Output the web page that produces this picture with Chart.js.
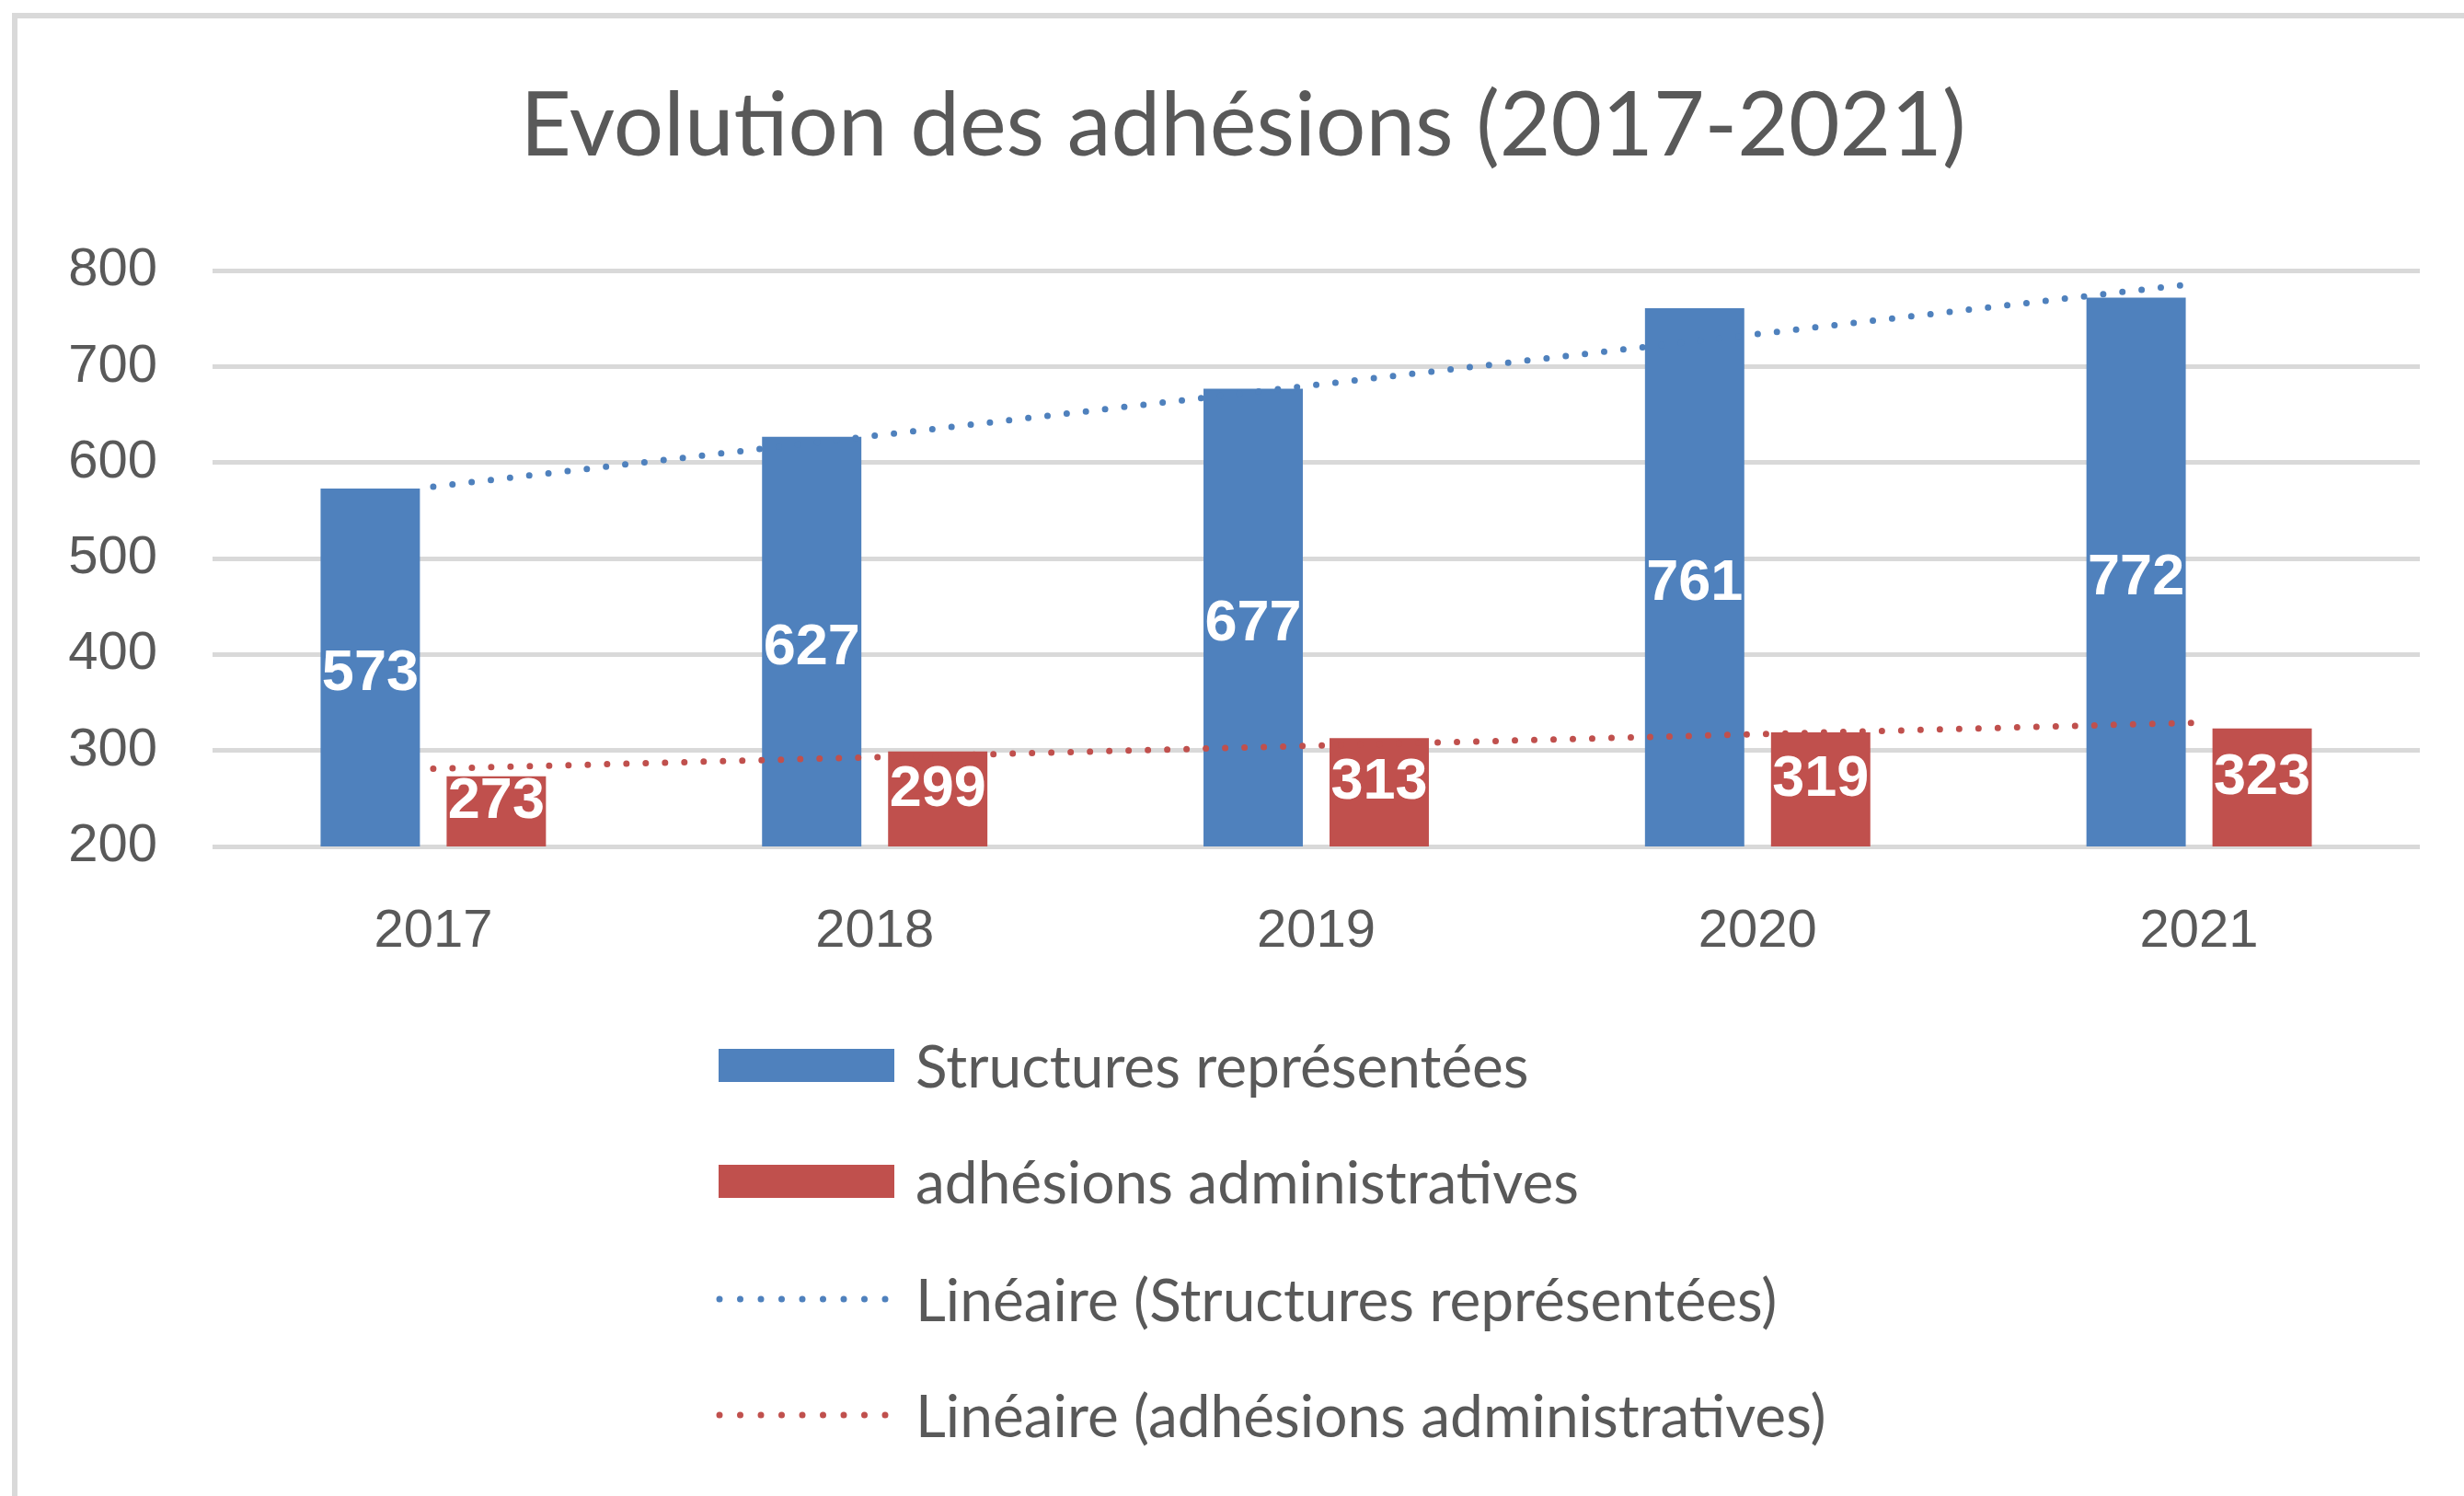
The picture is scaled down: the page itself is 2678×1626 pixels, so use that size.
<!DOCTYPE html>
<html>
<head>
<meta charset="utf-8">
<script src="https://cdn.jsdelivr.net/npm/chart.js@4.4.0/dist/chart.umd.min.js"></script>
<style>
  html, body { margin: 0; padding: 0; background: #fff; }
  #wrap { position: relative; width: 2678px; height: 1626px; overflow: hidden; }
  #frame { position: absolute; left: 13px; top: 14px; width: 2700px; height: 1700px;
           border-left: 6px solid #d9d9d9; border-top: 6px solid #d9d9d9; }
  canvas { position: absolute; left: 0; top: 0; }
</style>
</head>
<body>
<div id="wrap">
  <div id="frame"></div>
  <canvas id="chart" width="2678" height="1626"></canvas>
</div>
<script>
// donnees
var years = ['2017', '2018', '2019', '2020', '2021'];
var structures = [573, 627, 677, 761, 772];
var adhesions = [273, 299, 313, 319, 323];
// courbes de tendance : seulement les extremites
var trendStructures = [575, null, null, null, 787];
var trendAdhesions = [281, null, null, null, 329];
var yTicks = [200, 300, 400, 500, 600, 700, 800];

var blue = '#4F81BD';
var red = '#C0504D';
var grey = '#595959';
var tickFont = { family: 'Liberation Sans', size: 58 };

// etiquettes blanches au centre des barres (partie visible)
var barLabels = {
    id: 'barLabels',
    afterDatasetsDraw: function (chart) {
        var ctx = chart.ctx;
        var bottom = chart.chartArea.bottom;
        ctx.save();
        ctx.fillStyle = '#fff';
        ctx.font = 'bold 63px "Liberation Sans"';
        ctx.textAlign = 'center';
        ctx.textBaseline = 'middle';
        chart.data.datasets.forEach(function (ds, i) {
            if (ds.type !== 'bar') return;
            chart.getDatasetMeta(i).data.forEach(function (bar, j) {
                var y = (bar.y + Math.min(bar.base, bottom)) / 2;
                // Excel remonte un peu les etiquettes des petites barres
                if (bottom - bar.y < 200) y -= 10;
                else y += 7;
                ctx.fillText(String(ds.data[j]), bar.x, y);
            });
        });
        ctx.restore();
    }
};

// legende verticale sous le graphique
var sideLegend = {
    id: 'sideLegend',
    afterDraw: function (chart) {
        var ctx = chart.ctx;
        var rows = [1158, 1284, 1412, 1538];
        ctx.save();
        ctx.font = '64px Lato';
        ctx.textBaseline = 'middle';
        chart.data.datasets.forEach(function (ds, i) {
            var y = rows[i];
            if (ds.type === 'bar') {
                ctx.fillStyle = ds.backgroundColor;
                ctx.fillRect(781, y - 18, 191, 36);
            } else {
                ctx.strokeStyle = ds.borderColor;
                ctx.lineWidth = 7;
                ctx.lineCap = 'round';
                ctx.setLineDash([0, 22.5]);
                ctx.beginPath();
                ctx.moveTo(782, y);
                ctx.lineTo(964, y);
                ctx.stroke();
                ctx.setLineDash([]);
            }
            ctx.fillStyle = grey;
            ctx.fillText(ds.label, 995, y + 3);
        });
        ctx.restore();
    }
};

var ctx = document.getElementById('chart').getContext('2d');
new Chart(ctx, {
    data: {
        labels: years,
        datasets: [
            { type: 'bar', label: 'Structures représentées', data: structures,
              backgroundColor: blue, order: 2,
              categoryPercentage: 0.571, barPercentage: 0.788 },
            { type: 'bar', label: 'adhésions administratives', data: adhesions,
              backgroundColor: red, order: 2,
              categoryPercentage: 0.571, barPercentage: 0.788 },
            { type: 'line', label: 'Linéaire (Structures représentées)', data: trendStructures,
              borderColor: blue, borderWidth: 7, borderDash: [0, 21], borderCapStyle: 'round',
              pointRadius: 0, spanGaps: true, fill: false, order: 1 },
            { type: 'line', label: 'Linéaire (adhésions administratives)', data: trendAdhesions,
              borderColor: red, borderWidth: 7, borderDash: [0, 21], borderCapStyle: 'round',
              pointRadius: 0, spanGaps: true, fill: false, order: 0 }
        ]
    },
    options: {
        responsive: false,
        animation: false,
        layout: { padding: { left: 72, right: 48, top: 0, bottom: 0 } },
        plugins: {
            title: {
                display: true,
                text: 'Evolution des adhésions (2017-2021)',
                color: grey,
                font: { family: 'Lato', size: 96, weight: 'normal' },
                padding: { top: 80, bottom: 99 }
            },
            legend: { display: false },
            tooltip: { enabled: false }
        },
        scales: {
            x: {
                grid: { display: false },
                border: { display: false },
                ticks: { color: grey, font: tickFont, padding: 50 },
                afterFit: function (scale) { scale.height = 706; }
            },
            y: {
                min: 200,
                max: 800,
                afterBuildTicks: function (scale) {
                    scale.ticks = yTicks.map(function (v) { return { value: v }; });
                },
                grid: { color: '#d9d9d9', lineWidth: 5, drawTicks: false },
                border: { display: false },
                ticks: { color: grey, font: tickFont, padding: 60 },
                afterFit: function (scale) { scale.width = 159; }
            }
        }
    },
    plugins: [barLabels, sideLegend]
});
</script>
</body>
</html>
